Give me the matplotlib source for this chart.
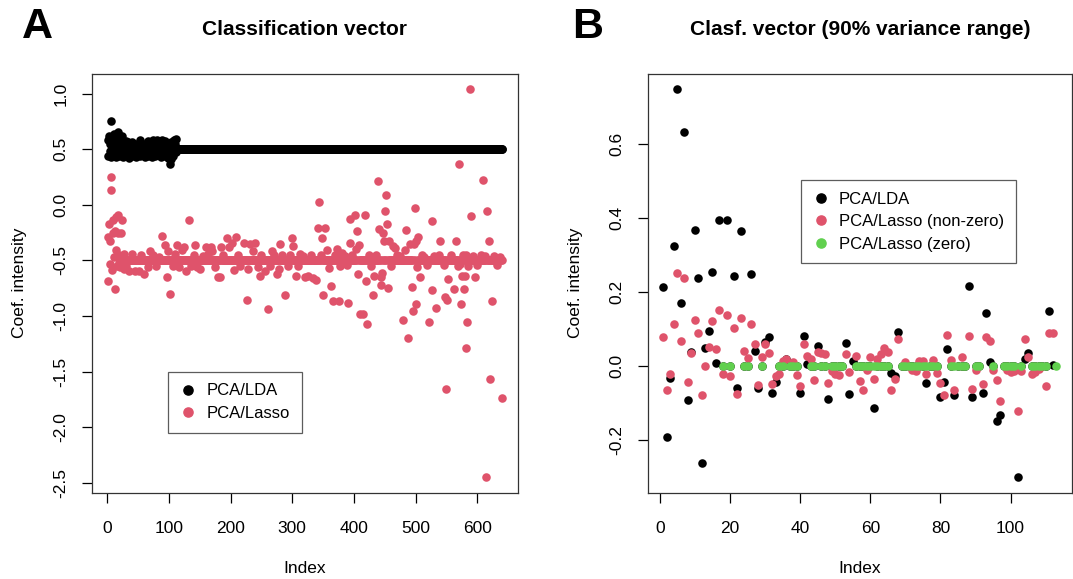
import numpy as np
import matplotlib
matplotlib.use("Agg")
import matplotlib.pyplot as plt
from matplotlib import font_manager
from matplotlib.lines import Line2D
from matplotlib.ticker import FormatStrFormatter

# --- Panel A: classification vector over all 640 coefficients ---
n_a = 640
lda_a_head = [0.58, 0.44, 0.62, 0.48, 0.55, 0.75, 0.43, 0.60, 0.52, 0.46,
              0.64, 0.50, 0.57, 0.43, 0.62, 0.47, 0.65, 0.54, 0.44, 0.60,
              0.51, 0.45, 0.58, 0.62, 0.48, 0.43, 0.55, 0.52, 0.46, 0.57,
              0.44, 0.53, 0.49, 0.56, 0.42, 0.51, 0.55, 0.47, 0.53, 0.45,
              0.56, 0.50, 0.44, 0.54, 0.48, 0.52, 0.43, 0.55, 0.50, 0.46,
              0.53, 0.47, 0.58, 0.44, 0.51, 0.49, 0.54, 0.45, 0.52, 0.48,
              0.43, 0.55, 0.50, 0.46, 0.53, 0.57, 0.44, 0.49, 0.52, 0.47,
              0.54, 0.43, 0.50, 0.46, 0.58, 0.52, 0.44, 0.49, 0.56, 0.47,
              0.58, 0.51, 0.45, 0.57, 0.53, 0.48, 0.55, 0.43, 0.58, 0.50,
              0.46, 0.54, 0.57, 0.44, 0.51, 0.47, 0.55, 0.42, 0.49, 0.45,
              0.53, 0.37, 0.41, 0.56, 0.48, 0.52, 0.44, 0.58, 0.50, 0.55,
              0.47, 0.59]
lda_a_tail = 0.5          # every coefficient after the head sits at 0.5

lasso_a_band = -0.5       # bulk of the lasso coefficients
lasso_a_idx = [1, 2, 3, 4, 5, 6, 7, 8, 9, 10, 11, 12, 13, 14, 15, 16, 17, 18, 19, 20,
               21, 22, 23, 24, 25, 26, 27, 28, 29, 30, 35, 40, 45, 51, 55, 60, 66, 70,
               75, 80, 84, 89, 94, 97, 99, 102, 106, 110, 113, 117, 121, 124, 128, 132,
               136, 140, 142, 146, 151, 155, 160, 164, 168, 170, 174, 179, 183, 184, 188,
               194, 197, 203, 206, 208, 212, 216, 222, 226, 229, 232, 236, 240, 244, 247,
               250, 255, 261, 264, 267, 270, 276, 278, 280, 283, 288, 293, 296, 299, 301,
               306, 309, 313, 318, 321, 326, 330, 333, 338, 342, 343, 346, 348, 350, 353,
               357, 360, 363, 366, 369, 372, 375, 378, 381, 385, 388, 391, 393, 394, 397,
               401, 403, 405, 406, 408, 410, 414, 417, 420, 421, 424, 427, 430, 433, 436,
               439, 441, 443, 444, 446, 447, 449, 450, 452, 454, 455, 457, 460, 463, 467,
               470, 474, 479, 482, 485, 488, 491, 494, 495, 497, 499, 500, 501, 502, 504,
               507, 510, 514, 518, 522, 526, 527, 530, 533, 537, 540, 545, 548, 549, 551,
               553, 557, 562, 565, 568, 570, 571, 573, 575, 577, 578, 579, 581, 582, 583,
               585, 588, 589, 592, 596, 600, 605, 609, 612, 614, 616, 618, 620, 623, 627,
               632, 636, 640]
lasso_a_val = [-0.29, -0.69, -0.17, -0.33, -0.53, 0.25, 0.13, -0.59, -0.14, -0.25,
               -0.47, -0.76, -0.24, -0.11, -0.41, -0.55, -0.25, -0.09, -0.52, -0.45,
               -0.56, -0.48, -0.25, -0.14, -0.53, -0.47, -0.58, -0.44, -0.51, -0.55,
               -0.60, -0.44, -0.60, -0.60, -0.45, -0.62, -0.56, -0.42, -0.45, -0.55,
               -0.47, -0.28, -0.36, -0.65, -0.42, -0.80, -0.55, -0.44, -0.36, -0.56,
               -0.41, -0.38, -0.60, -0.14, -0.55, -0.45, -0.36, -0.56, -0.58, -0.46,
               -0.38, -0.44, -0.38, -0.42, -0.56, -0.65, -0.65, -0.38, -0.45, -0.30,
               -0.38, -0.34, -0.59, -0.29, -0.45, -0.55, -0.34, -0.86, -0.58, -0.35,
               -0.42, -0.34, -0.56, -0.64, -0.45, -0.60, -0.94, -0.55, -0.42, -0.45,
               -0.62, -0.58, -0.35, -0.45, -0.81, -0.55, -0.45, -0.30, -0.37, -0.64,
               -0.55, -0.44, -0.46, -0.65, -0.64, -0.45, -0.66, -0.68, -0.21, 0.02,
               -0.45, -0.30, -0.81, -0.21, -0.41, -0.57, -0.73, -0.87, -0.45, -0.40,
               -0.87, -0.55, -0.43, -0.46, -0.54, -0.88, -0.34, -0.13, -0.45, -0.09,
               -0.40, -0.24, -0.62, -0.36, -0.98, -0.98, -0.09, -0.69, -1.07, -0.45,
               -0.55, -0.81, -0.64, -0.45, 0.21, -0.22, -0.65, -0.72, -0.61, -0.25,
               -0.33, -0.06, 0.09, -0.17, -0.75, -0.33, -0.55, -0.37, -0.39, -0.45,
               -0.46, -1.04, -0.41, -0.23, -1.20, -0.35, -0.74, -0.96, -0.35, -0.03,
               -0.89, -0.33, -0.56, -0.29, -0.65, -0.45, -0.47, -0.54, -1.05, -0.77,
               -0.15, -0.46, -0.93, -0.45, -0.33, -0.54, -0.83, -1.66, -0.86, -0.67,
               -0.45, -0.76, -0.33, -0.55, 0.37, -0.53, -0.89, -0.64, -0.45, -0.76,
               -0.64, -0.45, -1.29, -1.05, -0.55, 1.04, -0.10, -0.46, -0.65, -0.54,
               -0.45, 0.22, -0.46, -2.45, -0.06, -0.33, -1.57, -0.87, -0.46, -0.54,
               -0.47, -1.74]

# --- Panel B: first 112 coefficients (90% variance range) ---
lda_b = [0.213, -0.193, -0.032, 0.324, 0.749, 0.170, 0.634, -0.093, 0.037, 0.367,
         0.239, -0.263, 0.049, 0.095, 0.254, 0.008, 0.395, 0.0, 0.395, 0.0,
         0.244, -0.061, 0.365, 0.0, 0.0, 0.250, 0.041, -0.061, 0.0, 0.066,
         0.078, -0.074, -0.044, 0.0, 0.0, 0.018, 0.0, 0.0, 0.0, -0.074,
         0.081, 0.005, 0.0, 0.0, 0.054, 0.0, 0.0, -0.090, 0.0, 0.0,
         0.0, 0.0, 0.063, -0.075, 0.012, 0.0, 0.0, 0.0, 0.0, 0.0,
         -0.115, 0.0, 0.0, 0.0, 0.0, -0.020, -0.027, 0.093, 0.0, 0.0,
         0.0, 0.0, 0.0, 0.0, 0.0, -0.047, 0.0, 0.0, 0.0, -0.085,
         -0.044, 0.047, 0.0, -0.078, 0.0, 0.0, 0.0, 0.216, -0.083, 0.0,
         0.0, -0.074, 0.144, 0.011, 0.0, -0.149, -0.133, 0.0, 0.0, 0.0,
         0.0, -0.301, 0.0, 0.018, 0.034, 0.0, 0.0, 0.0, 0.0, 0.0,
         0.148, 0.003]

lasso_b_idx = [1, 2, 3, 4, 5, 6, 7, 8, 9, 10, 11, 12, 13, 14, 15, 16, 17, 18, 19, 20,
               21, 22, 23, 24, 25, 26, 27, 28, 29, 30, 31, 32, 33, 34, 35, 36, 38, 39,
               40, 41, 42, 43, 44, 45, 46, 47, 48, 49, 50, 51, 53, 54, 56, 57, 58, 59,
               60, 61, 62, 63, 64, 65, 66, 67, 68, 70, 72, 73, 74, 75, 76, 78, 79, 80,
               81, 82, 83, 84, 86, 88, 89, 90, 92, 93, 94, 95, 96, 97, 99, 100, 101,
               102, 103, 104, 105, 106, 107, 108, 110, 111, 112]
lasso_b_val = [0.077, -0.066, -0.022, 0.114, 0.252, 0.068, 0.237, -0.044, 0.035, 0.124,
               0.089, -0.078, 0.001, 0.050, 0.122, 0.047, 0.152, -0.021, 0.139, -0.026,
               0.102, -0.075, 0.129, 0.041, 0.022, 0.114, 0.059, -0.051, 0.025, 0.059,
               0.035, -0.050, -0.027, -0.021, 0.014, 0.018, 0.010, -0.025, -0.054, 0.059,
               0.027, 0.020, -0.038, 0.037, 0.034, 0.031, -0.047, -0.015, -0.022, -0.025,
               0.031, -0.016, 0.027, -0.040, -0.066, -0.011, 0.025, -0.036, 0.019, 0.033,
               0.049, 0.038, -0.065, -0.036, 0.072, 0.011, -0.011, -0.013, 0.014, 0.014,
               -0.022, 0.017, -0.020, -0.045, -0.078, 0.083, 0.015, -0.064, 0.023, 0.082,
               -0.062, -0.012, -0.050, 0.078, 0.068, -0.011, -0.038, -0.095, -0.012, -0.016,
               -0.013, -0.123, -0.013, 0.074, 0.025, -0.021, -0.016, -0.008, -0.054, 0.088,
               0.090]

zero_b_idx = [18, 20, 24, 25, 29, 34, 35, 37, 38, 39, 43, 44, 46, 47, 49, 50, 51, 52,
              56, 57, 58, 59, 60, 61, 62, 63, 64, 65, 69, 70, 71, 72, 73, 74, 75, 76,
              77, 78, 79, 83, 84, 85, 86, 87, 90, 91, 95, 98, 99, 100, 101, 103, 106,
              107, 108, 109, 110, 113]

BLACK = "#000000"
RED = "#DF536B"
GREEN = "#61D04F"

plt.rcParams["font.family"] = ["Liberation Sans", "DejaVu Sans"]
plt.rcParams["axes.unicode_minus"] = False

installed = {f.name for f in font_manager.fontManager.ttflist}
narrow = "Liberation Sans Narrow" if "Liberation Sans Narrow" in installed else "Liberation Sans"

fig = plt.figure(figsize=(10.73, 5.79), dpi=100)
ax_a = fig.add_axes([0.0857, 0.149, 0.397, 0.724])
ax_b = fig.add_axes([0.6036, 0.149, 0.3954, 0.724])

pt = 38  # marker area (pt^2) of a filled R dot


def style_axes(ax):
    for sp in ax.spines.values():
        sp.set_linewidth(0.9)
        sp.set_color("#333333")
    ax.tick_params(direction="out", length=7, width=0.9, labelsize=12.5)
    ax.tick_params(axis="x", pad=13)
    ax.tick_params(axis="y", pad=10)
    ax.yaxis.set_major_formatter(FormatStrFormatter("%.1f"))
    for lab in ax.get_yticklabels():
        lab.set_rotation(90)
        lab.set_va("center")
    ax.set_xlabel("Index", fontsize=12.5, labelpad=18)
    ax.set_ylabel("Coef. intensity", fontsize=12.5, labelpad=19)
    ax.margins(x=0.04, y=0.04)


# Panel A
idx_a = np.arange(1, n_a + 1)
lda_a = np.concatenate([lda_a_head, np.full(n_a - len(lda_a_head), lda_a_tail)])
lasso_a = np.full(n_a, lasso_a_band)
lasso_a[np.array(lasso_a_idx) - 1] = lasso_a_val

ax_a.scatter(idx_a, lda_a, s=pt, c=BLACK, linewidths=0)
ax_a.scatter(idx_a, lasso_a, s=pt, c=RED, linewidths=0)
ax_a.set_xticks(np.arange(0, 601, 100))
ax_a.set_yticks(np.arange(-2.5, 1.01, 0.5))
style_axes(ax_a)
ax_a.set_title("Classification vector", fontsize=15, fontweight="bold",
               family=narrow, pad=28)

# Panel B
idx_b = np.arange(1, len(lda_b) + 1)
ax_b.scatter(idx_b, lda_b, s=pt, c=BLACK, linewidths=0)
ax_b.scatter(lasso_b_idx, lasso_b_val, s=pt, c=RED, linewidths=0)
ax_b.scatter(zero_b_idx, np.zeros(len(zero_b_idx)), s=pt, c=GREEN, linewidths=0)
ax_b.set_xticks(np.arange(0, 101, 20))
ax_b.set_yticks(np.arange(-0.2, 0.61, 0.2))
style_axes(ax_b)
ax_b.set_title("Clasf. vector (90% variance range)", fontsize=15, fontweight="bold",
               family=narrow, pad=28)


def dot(color):
    return Line2D([], [], ls="none", marker="o", ms=6.6, mfc=color, mec=color)


leg_kw = dict(loc="upper left", fontsize=12, frameon=True, fancybox=False,
              borderaxespad=0, handlelength=1.0, handletextpad=0.6,
              labelspacing=0.45, borderpad=0.7)
leg_a = ax_a.legend([dot(BLACK), dot(RED)], ["PCA/LDA", "PCA/Lasso"],
                    bbox_to_anchor=(0.179, 0.2885), **leg_kw)
leg_b = ax_b.legend([dot(BLACK), dot(RED), dot(GREEN)],
                    ["PCA/LDA", "PCA/Lasso (non-zero)", "PCA/Lasso (zero)"],
                    bbox_to_anchor=(0.3606, 0.7463), **leg_kw)
for leg in (leg_a, leg_b):
    leg.get_frame().set_edgecolor("#333333")
    leg.get_frame().set_linewidth(0.9)

# Panel letters
fig.text(0.020, 0.953, "A", fontsize=31, fontweight="bold", family=narrow, va="center")
fig.text(0.533, 0.953, "B", fontsize=31, fontweight="bold", family=narrow, va="center")

fig.savefig("out.png", dpi=100)
